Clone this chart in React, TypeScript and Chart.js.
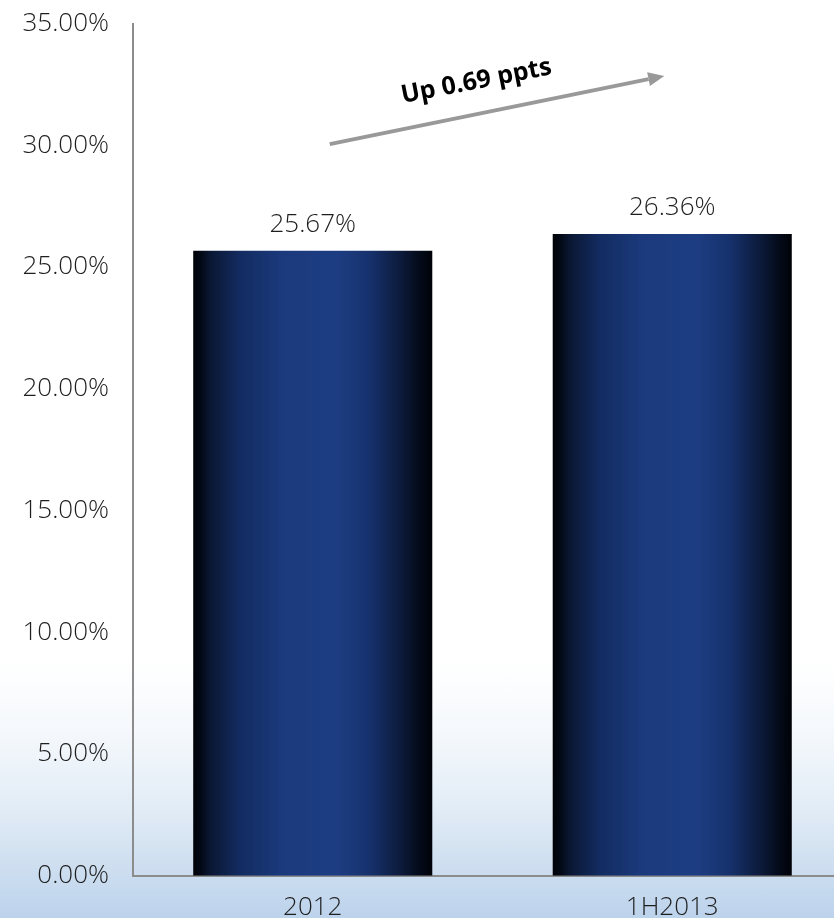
import React, { useEffect, useRef } from "react";
import { Chart, registerables } from "chart.js";

Chart.register(...registerables);

const categories = ["2012", "1H2013"];
const values = [25.67, 26.36];
const yTicks = [0, 5, 10, 15, 20, 25, 30, 35];
const annotationText = "Up 0.69 ppts";
const arrowFrom = 30.05;
const arrowTo = 32.85;

const FONT = "'Open Sans', 'Noto Sans', sans-serif";

function barGradient(ctx: CanvasRenderingContext2D, x0: number, x1: number) {
  const g = ctx.createLinearGradient(x0, 0, x1, 0);
  g.addColorStop(0, "#000207");
  g.addColorStop(0.03, "#020814");
  g.addColorStop(0.07, "#0a1732");
  g.addColorStop(0.2, "#132c62");
  g.addColorStop(0.38, "#1b3a7d");
  g.addColorStop(0.6, "#1d3d83");
  g.addColorStop(0.74, "#16316c");
  g.addColorStop(0.87, "#0c1a3a");
  g.addColorStop(0.95, "#030a18");
  g.addColorStop(1, "#000207");
  return g;
}

const overlayPlugin = {
  id: "overlay",
  afterDatasetsDraw(chart: any) {
    const ctx = chart.ctx as CanvasRenderingContext2D;
    const meta = chart.getDatasetMeta(0);
    ctx.save();
    ctx.fillStyle = "#1e1e1e";
    ctx.font = `300 26px ${FONT}`;
    ctx.textAlign = "center";
    ctx.textBaseline = "middle";
    meta.data.forEach((el: any, i: number) => {
      ctx.fillText(values[i].toFixed(2) + "%", el.x, el.y - 26);
    });
    ctx.restore();

    const xs = chart.scales.x;
    const ys = chart.scales.y;
    const c0 = xs.getPixelForValue(0);
    const c1 = xs.getPixelForValue(1);
    const sx = c0 + 17;
    const sy = ys.getPixelForValue(arrowFrom);
    const ex = c1 - 8;
    const ey = ys.getPixelForValue(arrowTo);
    const ang = Math.atan2(ey - sy, ex - sx);
    const head = 16;
    const hw = 7;
    ctx.save();
    ctx.strokeStyle = "#999999";
    ctx.fillStyle = "#999999";
    ctx.lineWidth = 4;
    ctx.beginPath();
    ctx.moveTo(sx, sy);
    ctx.lineTo(ex - Math.cos(ang) * head, ey - Math.sin(ang) * head);
    ctx.stroke();
    ctx.beginPath();
    ctx.moveTo(ex, ey);
    ctx.lineTo(
      ex - Math.cos(ang) * head - Math.sin(ang) * hw,
      ey - Math.sin(ang) * head + Math.cos(ang) * hw
    );
    ctx.lineTo(
      ex - Math.cos(ang) * head + Math.sin(ang) * hw,
      ey - Math.sin(ang) * head - Math.cos(ang) * hw
    );
    ctx.closePath();
    ctx.fill();
    ctx.restore();

    const tx = c0 + (c1 - c0) * 0.455;
    const ty = ys.getPixelForValue(32.62);
    ctx.save();
    ctx.translate(tx, ty);
    ctx.rotate((-11 * Math.PI) / 180);
    ctx.fillStyle = "#000000";
    ctx.font = `bold 25px ${FONT}`;
    ctx.textAlign = "center";
    ctx.textBaseline = "middle";
    ctx.fillText(annotationText, 0, 0);
    ctx.restore();
  },
};

export default function App() {
  const ref = useRef<HTMLCanvasElement | null>(null);
  useEffect(() => {
    if (!ref.current) return;
    const chart = new Chart(ref.current, {
      type: "bar",
      data: {
        labels: categories,
        datasets: [
          {
            data: values,
            backgroundColor: (c: any) => {
              const ch = c.chart;
              const xs = ch.scales?.x;
              if (!xs || c.dataIndex === undefined) return "#1a397a";
              const cx = xs.getPixelForValue(c.dataIndex);
              const w = (xs.width / categories.length) * 0.665;
              if (!isFinite(cx) || !isFinite(w) || w <= 0) return "#1a397a";
              return barGradient(ch.ctx, cx - w / 2, cx + w / 2);
            },
            borderWidth: 0,
            barPercentage: 0.665,
            categoryPercentage: 1,
          },
        ],
      },
      options: {
        animation: false,
        responsive: false,
        maintainAspectRatio: false,
        layout: { padding: { top: 7, right: 0, bottom: 0, left: 0 } },
        plugins: { legend: { display: false }, tooltip: { enabled: false } },
        scales: {
          x: {
            grid: { display: false, drawTicks: false },
            border: { display: true, color: "#8c8c8c", width: 2 },
            ticks: {
              color: "#1e1e1e",
              font: { family: FONT, size: 26, weight: "300" },
              padding: 16,
            },
          },
          y: {
            min: 0,
            max: 35,
            afterBuildTicks: (s: any) => {
              s.ticks = yTicks.map((v) => ({ value: v }));
            },
            afterFit: (s: any) => {
              s.width = 133;
            },
            grid: { display: false, drawTicks: false },
            border: { display: true, color: "#8c8c8c", width: 2 },
            ticks: {
              color: "#1e1e1e",
              font: { family: FONT, size: 26, weight: "300" },
              padding: 24,
              callback: (v: any) => Number(v).toFixed(2) + "%",
            },
          },
        },
      },
      plugins: [overlayPlugin],
    });
    chart.update();
    return () => chart.destroy();
  }, []);
  return (
    <div
      style={{
        position: "absolute",
        left: 0,
        top: 0,
        width: 834,
        height: 918,
        overflow: "hidden",
        background:
          "linear-gradient(to bottom, #ffffff 0%, #ffffff 72%, #f4f8fc 80%, #e2ecf6 88%, #cfdff0 94%, #bcd3ec 100%)",
      }}
    >
      <canvas
        ref={ref}
        width={852}
        height={955}
        style={{ display: "block", marginTop: -16 }}
      />
    </div>
  );
}
